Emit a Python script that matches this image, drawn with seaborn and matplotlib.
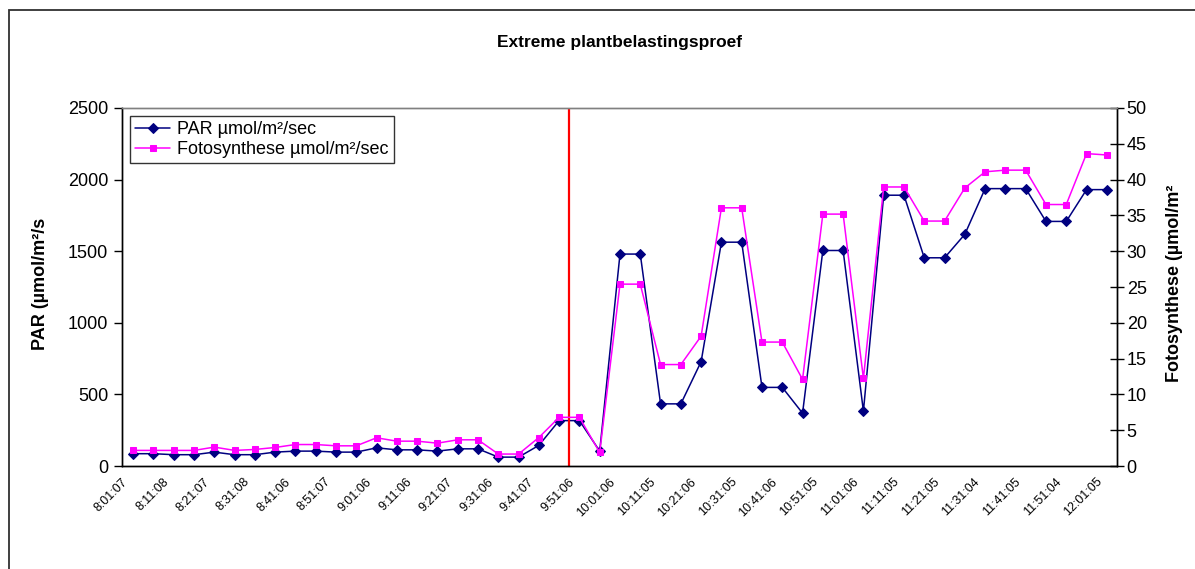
import numpy as np
import pandas as pd
import seaborn as sns
import matplotlib.pyplot as plt
from matplotlib.patches import Rectangle

# tijd labels (elke 2e meting)
time_labels = ["8:01:07", "8:11:08", "8:21:07", "8:31:08", "8:41:06", "8:51:07",
               "9:01:06", "9:11:06", "9:21:07", "9:31:06", "9:41:07", "9:51:06",
               "10:01:06", "10:11:05", "10:21:06", "10:31:05", "10:41:06", "10:51:05",
               "11:01:06", "11:11:05", "11:21:05", "11:31:04", "11:41:05", "11:51:04",
               "12:01:05"]

par = [86, 86, 79, 79, 97, 79, 79, 97, 104, 104, 97, 97, 127, 113, 113, 104, 120, 120,
       62, 62, 144, 317, 317, 104, 1480, 1480, 434, 434, 729, 1563, 1563, 549, 549, 369,
       1505, 1505, 383, 1891, 1891, 1454, 1454, 1618, 1937, 1937, 1937, 1708, 1708, 1930, 1930]

foto = [2.18, 2.18, 2.18, 2.18, 2.64, 2.18, 2.31, 2.59, 3.0, 3.0, 2.82, 2.82, 3.94, 3.47,
        3.47, 3.19, 3.66, 3.66, 1.67, 1.67, 3.98, 6.8, 6.8, 1.89, 25.4, 25.4, 14.17, 14.17,
        18.14, 36.06, 36.06, 17.31, 17.31, 12.1, 35.18, 35.18, 12.23, 38.97, 38.97, 34.21,
        34.21, 38.83, 41.09, 41.32, 41.32, 36.52, 36.52, 43.63, 43.44]

start_idx = 21.5  # start extreme belasting (rode lijn)

df = pd.DataFrame({"idx": np.arange(len(par)), "par": par, "foto": foto})

sns.set_style("white")
plt.rcParams['font.family'] = ['Liberation Sans', 'DejaVu Sans']
plt.rcParams['text.color'] = 'black'
plt.rcParams['axes.labelcolor'] = 'black'
plt.rcParams['xtick.color'] = 'black'
plt.rcParams['ytick.color'] = 'black'

fig = plt.figure(figsize=(11.95, 5.69), dpi=100)
ax = fig.add_axes([0.1021, 0.181, 0.8326, 0.6292])
ax2 = ax.twinx()

sns.lineplot(data=df, x="idx", y="par", ax=ax, color="#000080", marker="D",
             markersize=5, markeredgecolor="#000080", linewidth=1.1, label="PAR µmol/m²/sec")
sns.lineplot(data=df, x="idx", y="foto", ax=ax2, color="#FF00FF", marker="s",
             markersize=5, markeredgecolor="#FF00FF", linewidth=1.1,
             label="Fotosynthese µmol/m²/sec")
for a in (ax, ax2):
    if a.get_legend() is not None:
        a.get_legend().remove()

ax.axvline(start_idx, color="#FF0000", lw=1.6)

n = len(par)
ax.set_xlim(-0.5, n - 0.5)
ax.set_ylim(0, 2500)
ax2.set_ylim(0, 50)
ax.set_yticks(np.arange(0, 2501, 500))
ax2.set_yticks(np.arange(0, 51, 5))

# x-as: streepjes tussen de metingen, labels bij elke 2e meting
ax.set_xticks(np.arange(-0.5, n, 1.0))
ax.set_xticklabels([])
ax.set_xticks(np.arange(0, n, 2) - 0.55, minor=True)
ax.set_xticklabels(time_labels, minor=True, rotation=45, ha="right",
                   rotation_mode="anchor", fontsize=9, color="black")
ax.tick_params(axis="x", which="major", length=5, width=1, direction="out", color="black")
ax.tick_params(axis="x", which="minor", length=0, pad=7)

ax.tick_params(axis="y", length=6, width=1, direction="out", labelsize=13, pad=4,
               labelcolor="black")
ax2.tick_params(axis="y", length=10, width=1, direction="inout", labelsize=13, pad=2,
                labelcolor="black")

ax.set_xlabel("")
ax.set_ylabel("PAR (µmol/m²/s", fontsize=13, fontweight="bold", color="black")
ax.yaxis.set_label_coords(-0.073, 0.51)
ax2.set_ylabel("Fotosynthese (µmol/m²", fontsize=13, fontweight="bold", color="black")
ax2.yaxis.set_label_coords(1.049, 0.51)

for a in (ax, ax2):
    for s in a.spines.values():
        s.set_color("black")
        s.set_linewidth(1)
    a.spines["top"].set_color("#808080")

ax.set_title("Extreme plantbelastingsproef", fontsize=12.5, fontweight="bold",
             color="black", pad=0, y=1.17)

h1, l1 = ax.get_legend_handles_labels()
h2, l2 = ax2.get_legend_handles_labels()
leg = ax2.legend(h1 + h2, l1 + l2, loc="upper left", bbox_to_anchor=(0.008, 0.978),
                 fontsize=13, frameon=True, fancybox=False, shadow=False,
                 handlelength=1.9, handletextpad=0.4, borderpad=0.3, labelspacing=0.15,
                 borderaxespad=0)
leg.get_frame().set_edgecolor("black")
leg.get_frame().set_linewidth(1)
for t in leg.get_texts():
    t.set_color("black")

fig.add_artist(Rectangle((9 / 1195, -0.05), 1.1, 1 - 10 / 569 + 0.05,
                         transform=fig.transFigure, fill=False, ec="#303030", lw=1.3))

fig.savefig("out.png", dpi=100)
